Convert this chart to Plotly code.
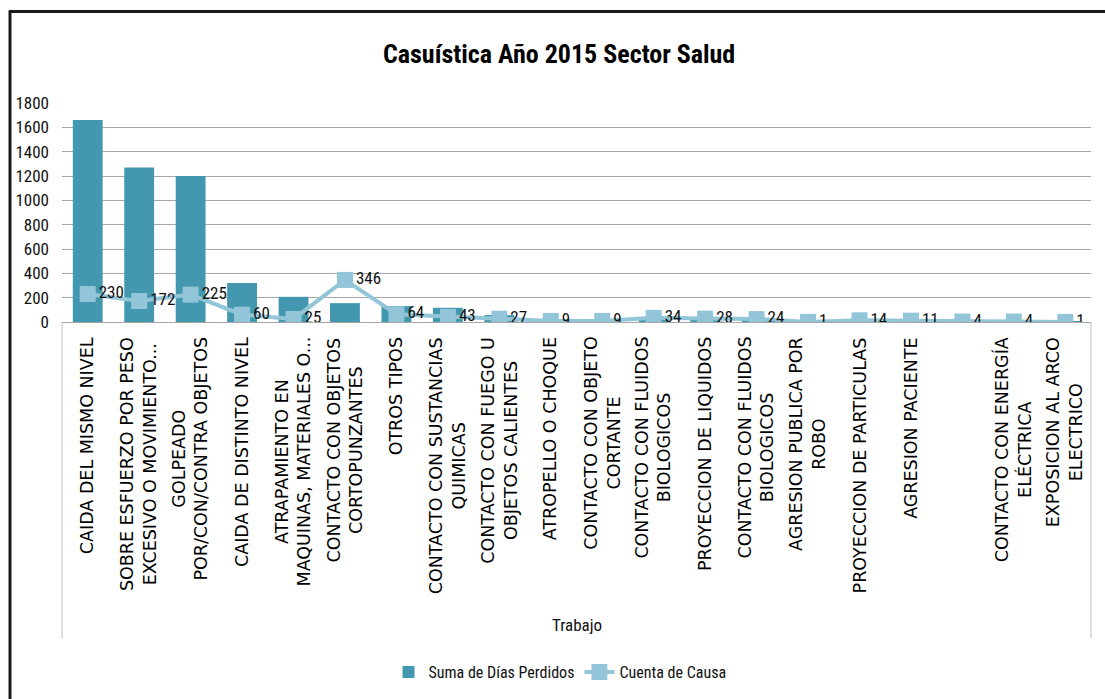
import plotly.graph_objects as go

# Categories of accident causes (label lines separated by <br>)
categorias = [
    "CAIDA DEL MISMO NIVEL",
    "SOBRE ESFUERZO POR PESO<br>EXCESIVO O MOVIMIENTO...",
    "GOLPEADO<br>POR/CON/CONTRA OBJETOS",
    "CAIDA DE DISTINTO NIVEL",
    "ATRAPAMIENTO EN<br>MAQUINAS, MATERIALES O...",
    "CONTACTO CON OBJETOS<br>CORTOPUNZANTES",
    "OTROS TIPOS",
    "CONTACTO CON SUSTANCIAS<br>QUIMICAS",
    "CONTACTO CON FUEGO U<br>OBJETOS CALIENTES",
    "ATROPELLO O CHOQUE",
    "CONTACTO CON OBJETO<br>CORTANTE",
    "CONTACTO CON FLUIDOS<br>BIOLOGICOS",
    "PROYECCION DE LIQUIDOS",
    "CONTACTO CON FLUIDOS<br>BIOLOGICOS",
    "AGRESION PUBLICA POR<br>ROBO",
    "PROYECCION DE PARTICULAS",
    "AGRESION PACIENTE",
    "",
    "CONTACTO CON ENERGÍA<br>ELÉCTRICA",
    "EXPOSICION AL ARCO<br>ELECTRICO",
]

# Sum of lost days per cause
dias_perdidos = [1660, 1270, 1200, 320, 207, 155, 131, 117, 57, 15,
                 12, 20, 18, 15, 5, 10, 8, 3, 5, 2]
# Number of cases per cause
cuenta_causa = [230, 172, 225, 60, 25, 346, 64, 43, 27, 9,
                9, 34, 28, 24, 1, 14, 11, 4, 4, 1]

y_ticks = [0, 200, 400, 600, 800, 1000, 1200, 1400, 1600, 1800]

W, H = 1105, 699
L, R, T, B = 62, 1091, 103, 323  # plot area in pixels


def px_x(p):
    return (p - L) / (R - L)


def px_y(p):
    return (B - p) / (B - T)


x_idx = list(range(len(categorias)))

BAR_COLOR = "rgb(67,152,176)"
LINE_COLOR = "rgb(146,197,216)"
NARROW = "Roboto Condensed"

fig = go.Figure()
fig.add_trace(go.Bar(
    x=x_idx, y=dias_perdidos, name="Suma de Días Perdidos",
    marker=dict(color=BAR_COLOR, line=dict(width=0)),
))
fig.add_trace(go.Scatter(
    x=x_idx, y=cuenta_causa, name="Cuenta de Causa",
    mode="lines+markers+text",
    line=dict(color=LINE_COLOR, width=4),
    marker=dict(symbol="square", size=16, color=LINE_COLOR),
    text=[str(v) for v in cuenta_causa],
    textposition="middle right",
    textfont=dict(family=NARROW, size=17, color="#111"),
))

annotations = []
for i, lab in enumerate(categorias):
    if not lab:
        continue
    annotations.append(dict(
        x=i, xref="x", y=px_y(336), yref="paper",
        text=lab, textangle=-90, showarrow=False,
        xanchor="center", yanchor="top", align="center",
        font=dict(family="DejaVu Sans", size=17.5, color="#000"),
    ))
annotations.append(dict(
    x=px_x(577), xref="paper", y=px_y(627), yref="paper",
    text="Trabajo", showarrow=False, xanchor="center", yanchor="middle",
    font=dict(family=NARROW, size=17, color="#111"),
))
annotations.append(dict(
    x=px_x(559), xref="paper", y=px_y(54), yref="paper",
    text="<b>Casuística Año 2015 Sector Salud</b>", showarrow=False,
    xanchor="center", yanchor="middle",
    font=dict(family=NARROW, size=26, color="#000"),
))

shapes = [
    # side borders of the category area
    dict(type="line", xref="paper", yref="paper",
         x0=0, x1=0, y0=0, y1=px_y(641), line=dict(color="#BFBFBF", width=1)),
    dict(type="line", xref="paper", yref="paper",
         x0=1, x1=1, y0=0, y1=px_y(641), line=dict(color="#BFBFBF", width=1)),
    # outer frame (top and left)
    dict(type="line", xref="paper", yref="paper",
         x0=px_x(9), x1=px_x(1110), y0=px_y(11), y1=px_y(11),
         line=dict(color="#1a1a1a", width=3)),
    dict(type="line", xref="paper", yref="paper",
         x0=px_x(10), x1=px_x(10), y0=px_y(10), y1=px_y(705),
         line=dict(color="#1a1a1a", width=3)),
]

fig.update_layout(
    width=W, height=H,
    margin=dict(l=L, r=W - R, t=T, b=H - B, pad=0),
    paper_bgcolor="white", plot_bgcolor="white",
    bargap=0.42,
    showlegend=True,
    legend=dict(
        orientation="h", x=px_x(560), xanchor="center",
        y=px_y(672), yanchor="middle",
        font=dict(family=NARROW, size=16, color="#111"),
        itemwidth=30, bgcolor="rgba(0,0,0,0)",
    ),
    xaxis=dict(
        type="linear", range=[-0.5, len(categorias) - 0.5],
        showticklabels=False, showgrid=False, zeroline=False,
        showline=True, linecolor="#A6A6A6", linewidth=1, ticks="",
    ),
    yaxis=dict(
        range=[0, 1800], tickvals=y_ticks,
        showgrid=True, gridcolor="#A6A6A6", gridwidth=1,
        zeroline=False, showline=False, ticks="",
        ticklabelstandoff=12,
        tickfont=dict(family=NARROW, size=17, color="#111"),
    ),
    annotations=annotations,
    shapes=shapes,
)

fig.write_html("out.html")
